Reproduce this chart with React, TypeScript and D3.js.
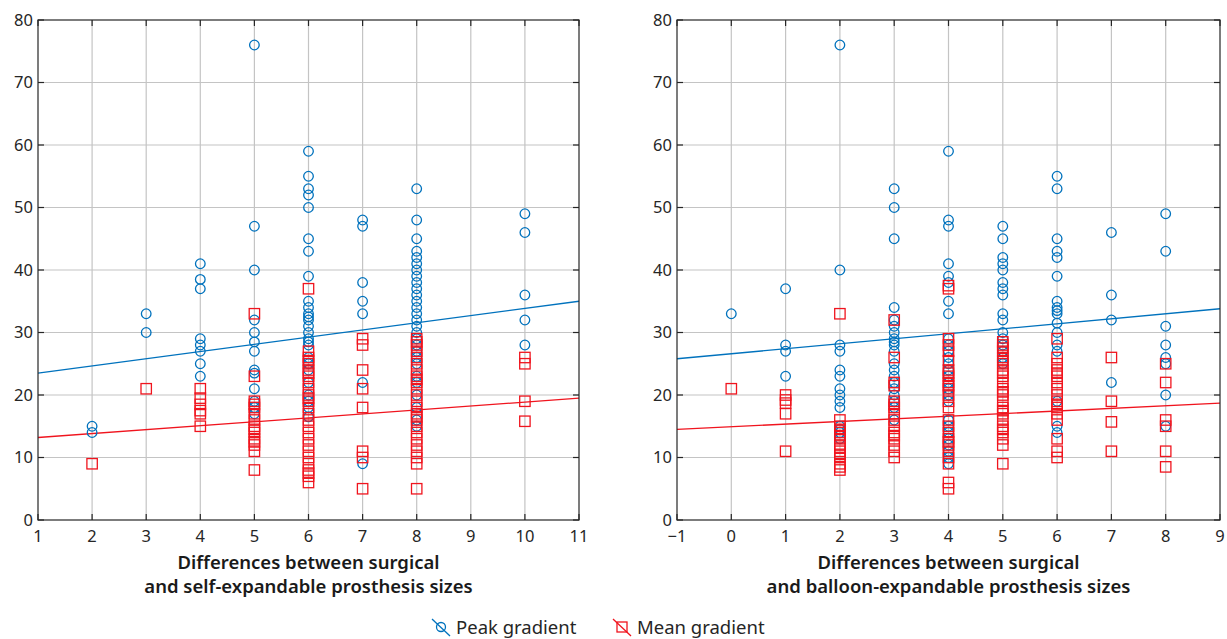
import * as d3 from "d3";

// Left panel: self-expandable
const selfPeakX = [2, 2, 3, 3, 4, 4, 4, 4, 4, 4, 4, 4,
  5, 5, 5, 5, 5, 5, 5, 5, 5, 5, 5, 5, 5,
  6, 6, 6, 6, 6, 6, 6, 6, 6, 6, 6, 6, 6, 6, 6, 6, 6, 6, 6, 6, 6, 6, 6, 6, 6, 6,
  7, 7, 7, 7, 7, 7, 7,
  8, 8, 8, 8, 8, 8, 8, 8, 8, 8, 8, 8, 8, 8, 8, 8, 8, 8, 8, 8, 8, 8, 8, 8, 8, 8, 8, 8,
  10, 10, 10, 10, 10];
const selfPeakY = [15, 14, 33, 30, 41, 38.5, 37, 29, 28, 27, 25, 23,
  76, 47, 40, 32, 30, 28.5, 27, 24, 23.5, 21, 19, 18, 17,
  59, 55, 53, 52, 50, 45, 43, 39, 35, 34, 33, 32.5, 32, 31, 30, 29, 28.5, 28, 26, 25, 24, 22, 20, 19, 18, 16.5,
  48, 47, 38, 35, 33, 22, 9,
  53, 48, 45, 43, 42, 41, 40, 39, 38, 37, 36, 35, 34, 33, 32, 31, 30, 29, 28, 27, 26, 25, 23, 22, 20, 18, 16, 15,
  49, 46, 36, 32, 28];
const selfMeanX = [2, 3, 4, 4, 4, 4, 4, 4,
  5, 5, 5, 5, 5, 5, 5, 5, 5, 5, 5, 5, 5, 5, 5,
  6, 6, 6, 6, 6, 6, 6, 6, 6, 6, 6, 6, 6, 6, 6, 6, 6, 6, 6, 6, 6, 6, 6, 6, 6, 6, 6,
  7, 7, 7, 7, 7, 7, 7, 7,
  8, 8, 8, 8, 8, 8, 8, 8, 8, 8, 8, 8, 8, 8, 8, 8, 8, 8, 8, 8, 8, 8, 8, 8, 8,
  10, 10, 10, 10];
const selfMeanY = [9, 21, 21, 19.5, 18.5, 17.5, 17, 15,
  33, 23, 19, 18.5, 18, 17, 16, 15, 14.5, 14, 13, 12.5, 12, 11, 8,
  37, 27, 26, 25.5, 25, 24, 23.5, 23, 22, 21, 20, 19.5, 19, 18, 17, 16, 15, 14, 13, 12, 11, 10, 9, 8, 7.5, 7, 6,
  29, 28, 24, 21, 18, 11, 10, 5,
  29, 28.5, 28, 27, 26, 25, 24, 23, 22.5, 22, 21, 20, 19, 18, 17, 16.5, 16, 15, 14, 13, 12, 11, 10, 9, 5,
  26, 25, 19, 15.8];
// fitted lines, values at the x-domain ends
const selfPeakFit = [23.5, 35];
const selfMeanFit = [13.2, 19.5];

// Right panel: balloon-expandable
const ballPeakX = [0, 1, 1, 1, 1,
  2, 2, 2, 2, 2, 2, 2, 2, 2, 2, 2, 2, 2, 2,
  3, 3, 3, 3, 3, 3, 3, 3, 3, 3, 3, 3, 3, 3, 3, 3, 3, 3, 3, 3,
  4, 4, 4, 4, 4, 4, 4, 4, 4, 4, 4, 4, 4, 4, 4, 4, 4, 4, 4, 4, 4, 4, 4, 4, 4, 4, 4,
  5, 5, 5, 5, 5, 5, 5, 5, 5, 5, 5, 5, 5, 5, 5, 5,
  6, 6, 6, 6, 6, 6, 6, 6, 6, 6, 6, 6, 6, 6, 6, 6, 6,
  7, 7, 7, 7,
  8, 8, 8, 8, 8, 8, 8, 8];
const ballPeakY = [33, 37, 28, 27, 23,
  76, 40, 28, 27, 24, 23, 21, 20, 19, 18, 15, 14.5, 14, 13,
  53, 50, 45, 34, 32, 31, 30, 29, 28.5, 28, 27, 25, 24, 23, 22, 21, 20, 19, 18, 16,
  59, 48, 47, 41, 39, 38, 35, 33, 29, 28, 27, 26, 25, 24, 23, 22, 21, 20, 19, 16, 15, 14, 13, 12, 11, 10, 9,
  47, 45, 42, 41, 40, 38, 37, 36, 33, 32, 30, 29, 28, 27, 26, 25,
  55, 53, 45, 43, 42, 39, 35, 34, 33.5, 33, 31.5, 30, 28, 27, 19, 15, 14,
  46, 36, 32, 22,
  49, 43, 31, 28, 26, 25, 20, 15];
const ballMeanX = [0, 1, 1, 1, 1, 1,
  2, 2, 2, 2, 2, 2, 2, 2, 2, 2, 2, 2, 2, 2, 2,
  3, 3, 3, 3, 3, 3, 3, 3, 3, 3, 3, 3, 3, 3, 3, 3,
  4, 4, 4, 4, 4, 4, 4, 4, 4, 4, 4, 4, 4, 4, 4, 4, 4, 4, 4, 4, 4, 4, 4, 4, 4, 4,
  5, 5, 5, 5, 5, 5, 5, 5, 5, 5, 5, 5, 5, 5, 5, 5, 5, 5, 5, 5, 5, 5, 5, 5, 5,
  6, 6, 6, 6, 6, 6, 6, 6, 6, 6, 6, 6, 6, 6, 6, 6, 6,
  7, 7, 7, 7,
  8, 8, 8, 8, 8, 8];
const ballMeanY = [21, 20, 19.2, 18.7, 17, 11,
  33, 16, 15, 14.5, 14, 13.5, 13, 12, 11.5, 11, 10.5, 10, 9, 8.5, 8,
  32, 26, 22, 21.5, 19, 18.5, 18, 17, 16, 15, 14, 13.5, 13, 12, 11, 10,
  37.5, 37, 29, 28, 27, 25.5, 24, 23.5, 23, 22, 21.5, 21, 20, 19, 18, 16, 15, 14, 13, 12.5, 12, 11, 10, 9, 6, 5,
  28.5, 28, 27.5, 27, 26, 25.5, 25, 24, 23.5, 23, 22, 21, 20.5, 20, 19, 18, 17.5, 17, 16, 15, 14.5, 14, 13, 12, 9,
  29, 26, 25, 24, 23.5, 23, 22, 21, 20, 19, 18.5, 18, 17, 16, 13, 11, 10,
  26, 19, 15.7, 11,
  25, 22, 16, 15, 11, 8.5];
const ballPeakFit = [25.8, 33.8];
const ballMeanFit = [14.5, 18.7];

const yTicks = [0, 10, 20, 30, 40, 50, 60, 70, 80];

const BLUE = "#0072BD";
const RED = "#F0141E";
const FONT = "'Noto Sans', 'Open Sans', sans-serif";

type PanelProps = {
  left: number;
  right: number;
  domain: [number, number];
  peakX: number[];
  peakY: number[];
  meanX: number[];
  meanY: number[];
  peakFit: number[];
  meanFit: number[];
  label: string[];
};

function Panel({ left, right, domain, peakX, peakY, meanX, meanY, peakFit, meanFit, label }: PanelProps) {
  const top = 20;
  const bottom = 520;
  const x = d3.scaleLinear().domain(domain).range([left, right]);
  const y = d3.scaleLinear().domain([0, 80]).range([bottom, top]);
  const xTicks = d3.range(domain[0], domain[1] + 1);
  const fmt = (v: number) => (v < 0 ? "\u2212" + Math.abs(v) : String(v));
  const line = d3.line<[number, number]>().x((d) => x(d[0])).y((d) => y(d[1]));
  const tick = 6;

  return (
    <g>
      {/* grid */}
      {xTicks.slice(1, -1).map((t) => (
        <line key={"gx" + t} x1={x(t)} x2={x(t)} y1={top} y2={bottom} stroke="#c4c4c4" strokeWidth={1.2} />
      ))}
      {yTicks.slice(1, -1).map((t) => (
        <line key={"gy" + t} x1={left} x2={right} y1={y(t)} y2={y(t)} stroke="#c4c4c4" strokeWidth={1.2} />
      ))}
      {/* fits */}
      <path d={line([[domain[0], peakFit[0]], [domain[1], peakFit[1]]]) ?? ""} stroke={BLUE} strokeWidth={1.3} fill="none" />
      <path d={line([[domain[0], meanFit[0]], [domain[1], meanFit[1]]]) ?? ""} stroke={RED} strokeWidth={1.3} fill="none" />
      {/* points */}
      {peakX.map((v, i) => (
        <circle key={"p" + i} cx={x(v)} cy={y(peakY[i])} r={4.8} fill="none" stroke={BLUE} strokeWidth={1.3} />
      ))}
      {meanX.map((v, i) => (
        <rect key={"m" + i} x={x(v) - 5.2} y={y(meanY[i]) - 5.2} width={10.4} height={10.4} fill="none" stroke={RED} strokeWidth={1.3} />
      ))}
      {/* box and ticks */}
      <rect x={left} y={top} width={right - left} height={bottom - top} fill="none" stroke="#262626" strokeWidth={1.2} />
      {xTicks.map((t) => (
        <g key={"tx" + t}>
          <line x1={x(t)} x2={x(t)} y1={bottom} y2={bottom - tick} stroke="#262626" strokeWidth={1.2} />
          <line x1={x(t)} x2={x(t)} y1={top} y2={top + tick} stroke="#262626" strokeWidth={1.2} />
          <text x={x(t)} y={bottom + 22} textAnchor="middle" fontSize={16.5} fill="#262626" fontFamily={FONT}>
            {fmt(t)}
          </text>
        </g>
      ))}
      {yTicks.map((t) => (
        <g key={"ty" + t}>
          <line x1={left} x2={left + tick} y1={y(t)} y2={y(t)} stroke="#262626" strokeWidth={1.2} />
          <line x1={right} x2={right - tick} y1={y(t)} y2={y(t)} stroke="#262626" strokeWidth={1.2} />
          <text x={left - 5} y={y(t) + 5.5} textAnchor="end" fontSize={16.5} fill="#262626" fontFamily={FONT}>
            {t}
          </text>
        </g>
      ))}
      {label.map((s, i) => (
        <text key={"l" + i} x={(left + right) / 2} y={569 + i * 24} textAnchor="middle" fontSize={18.5} fontWeight={600} fill="#1a1a1a" fontFamily={FONT}>
          {s}
        </text>
      ))}
    </g>
  );
}

export default function App() {
  return (
    <svg width={1227} height={639} style={{ position: "absolute", left: 0, top: 0, background: "#fff" }}>
      <Panel
        left={38}
        right={579}
        domain={[1, 11]}
        peakX={selfPeakX}
        peakY={selfPeakY}
        meanX={selfMeanX}
        meanY={selfMeanY}
        peakFit={selfPeakFit}
        meanFit={selfMeanFit}
        label={["Differences between surgical", "and self-expandable prosthesis sizes"]}
      />
      <Panel
        left={677}
        right={1220}
        domain={[-1, 9]}
        peakX={ballPeakX}
        peakY={ballPeakY}
        meanX={ballMeanX}
        meanY={ballMeanY}
        peakFit={ballPeakFit}
        meanFit={ballMeanFit}
        label={["Differences between surgical", "and balloon-expandable prosthesis sizes"]}
      />
      {/* legend */}
      <g fontFamily={FONT} fontSize={18.5} fill="#262626">
        <line x1={432} x2={450} y1={619} y2={636} stroke={BLUE} strokeWidth={1.3} />
        <circle cx={441} cy={627} r={4.5} fill="none" stroke={BLUE} strokeWidth={1.3} />
        <text x={456} y={634}>Peak gradient</text>
        <line x1={613} x2={631} y1={619} y2={636} stroke={RED} strokeWidth={1.3} />
        <rect x={617} y={622} width={10} height={10} fill="none" stroke={RED} strokeWidth={1.3} />
        <text x={637} y={634}>Mean gradient</text>
      </g>
    </svg>
  );
}
